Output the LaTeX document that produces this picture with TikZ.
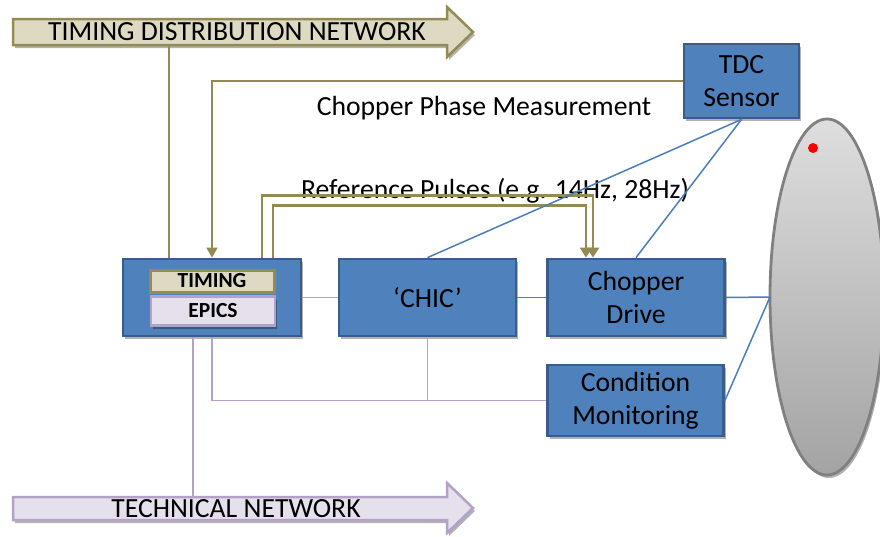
\documentclass[tikz,border=0pt]{standalone}
\usepackage{fontspec}
\setmainfont{Carlito}
\usetikzlibrary{shadows,arrows.meta}
\definecolor{boxblue}{HTML}{4F81BD}
\definecolor{boxedge}{HTML}{385D8A}
\definecolor{olivec}{HTML}{948A54}
\definecolor{beigec}{HTML}{DDD9C3}
\definecolor{lavc}{HTML}{E5E0EC}
\definecolor{lavedge}{HTML}{B3A2C7}
\definecolor{linkblue}{HTML}{4A7EBB}
\begin{document}
\begin{tikzpicture}[x=1pt,y=-1pt,
  bigfont/.style={font=\fontsize{27.7}{33}\selectfont},
  shade/.style={drop shadow={opacity=0.3,shadow xshift=2pt,shadow yshift=-3pt,fill=black}},
  bluebox/.style={draw=boxedge,line width=2.8pt,fill=boxblue,align=center,inner sep=0pt,bigfont,shade},
  olivelink/.style={draw=olivec,line width=1.8pt},
  pulselink/.style={draw=olivec,line width=2.4pt,-{Triangle[width=12pt,length=10pt]}},
  bluelink/.style={draw=linkblue,line width=1.5pt},
  lavlink/.style={draw=lavedge,line width=1.9pt},
  lbl/.style={bigfont,anchor=base,inner sep=0pt}]
\useasboundingbox (0,0) rectangle (880,536);
\begin{scope}
\clip (0,0) rectangle (880,536);
% network arrows
\draw[draw=olivec,line width=2.5pt,fill=beigec,shade]
  (13,19) -- (447,19) -- (447,7) -- (473,32) -- (447,57) -- (447,45) -- (13,45) -- cycle;
\node[lbl] (tdn) at (237,40) {TIMING DISTRIBUTION NETWORK};
\draw[draw=lavedge,line width=2.5pt,fill=lavc,shade]
  (13,497) -- (447,497) -- (447,483) -- (473,508) -- (447,533) -- (447,520) -- (13,520) -- cycle;
\node[lbl] (tn) at (236,517) {TECHNICAL NETWORK};
\coordinate (tdnB) at (169,45);
\coordinate (tnT) at (193,497);

% disc
\draw[draw=gray,line width=2.8pt,top color=black!13,bottom color=black!36,shade]
  (827,297) ellipse [x radius=57, y radius=178];
\coordinate (discW) at (770,297);
\node[circle,fill=red,minimum size=10pt,inner sep=0pt] (dot) at (813,148) {};

% boxes
\node[bluebox,minimum width=115pt,minimum height=74pt] (tdc) at (741.5,81) {TDC\\Sensor};
\node[bluebox,minimum width=178pt,minimum height=77pt] (host) at (212,297.5) {};
\node[draw=olivec,line width=3pt,fill=beigec,minimum width=124pt,minimum height=22pt,inner sep=0pt,
      font=\bfseries\fontsize{21.5}{24}\selectfont] (timing) at (212,281) {TIMING};
\node[draw=lavedge,line width=2.5pt,fill=lavc,minimum width=124pt,minimum height=29pt,inner sep=0pt,
      font=\bfseries\fontsize{21.5}{24}\selectfont,shade] (epics) at (213,311) {EPICS};
\node[bluebox,minimum width=177pt,minimum height=77pt] (chic) at (427.5,297.5) {‘CHIC’};
\node[bluebox,minimum width=177pt,minimum height=77pt] (drive) at (636,297.5) {Chopper\\Drive};
\node[bluebox,minimum width=176pt,minimum height=71pt] (cond) at (635.5,400.5) {Condition\\Monitoring};

% labels
\node[lbl] (cpm) at (484,115) {Chopper Phase Measurement};
\node[lbl] (rp) at (495,198) {Reference Pulses (e.g. 14Hz, 28Hz)};

% olive connectors
\draw[olivelink] (tdnB) -- (tdnB |- host.north);
\draw[olivelink,-{Triangle[width=11pt,length=10pt]}] (tdc.west) -| (host.north);
\draw[pulselink] ([xshift=50pt]host.north) -- ++(0,-62) -| ([xshift=-43pt]drive.north);
\draw[pulselink] ([xshift=61pt]host.north) -- ++(0,-52) -| ([xshift=-50pt]drive.north);

% blue connectors
\draw[bluelink] (tdc.south) -- (drive.north);
\draw[bluelink] (tdc.south) -- (chic.north);
\draw[bluelink] (chic.east) -- (drive.west);
\draw[bluelink] (drive.east) -- (discW);
\draw[bluelink] (cond.east) -- (discW);

% lavender connectors
\draw[lavlink] (host.east) -- (chic.west);
\draw[lavlink] (host.south -| tnT) -- (tnT);
\draw[lavlink] (host.south) |- (cond.west);
\draw[lavlink] (chic.south) -- (chic.south |- cond.west);
\end{scope}
\end{tikzpicture}
\end{document}
